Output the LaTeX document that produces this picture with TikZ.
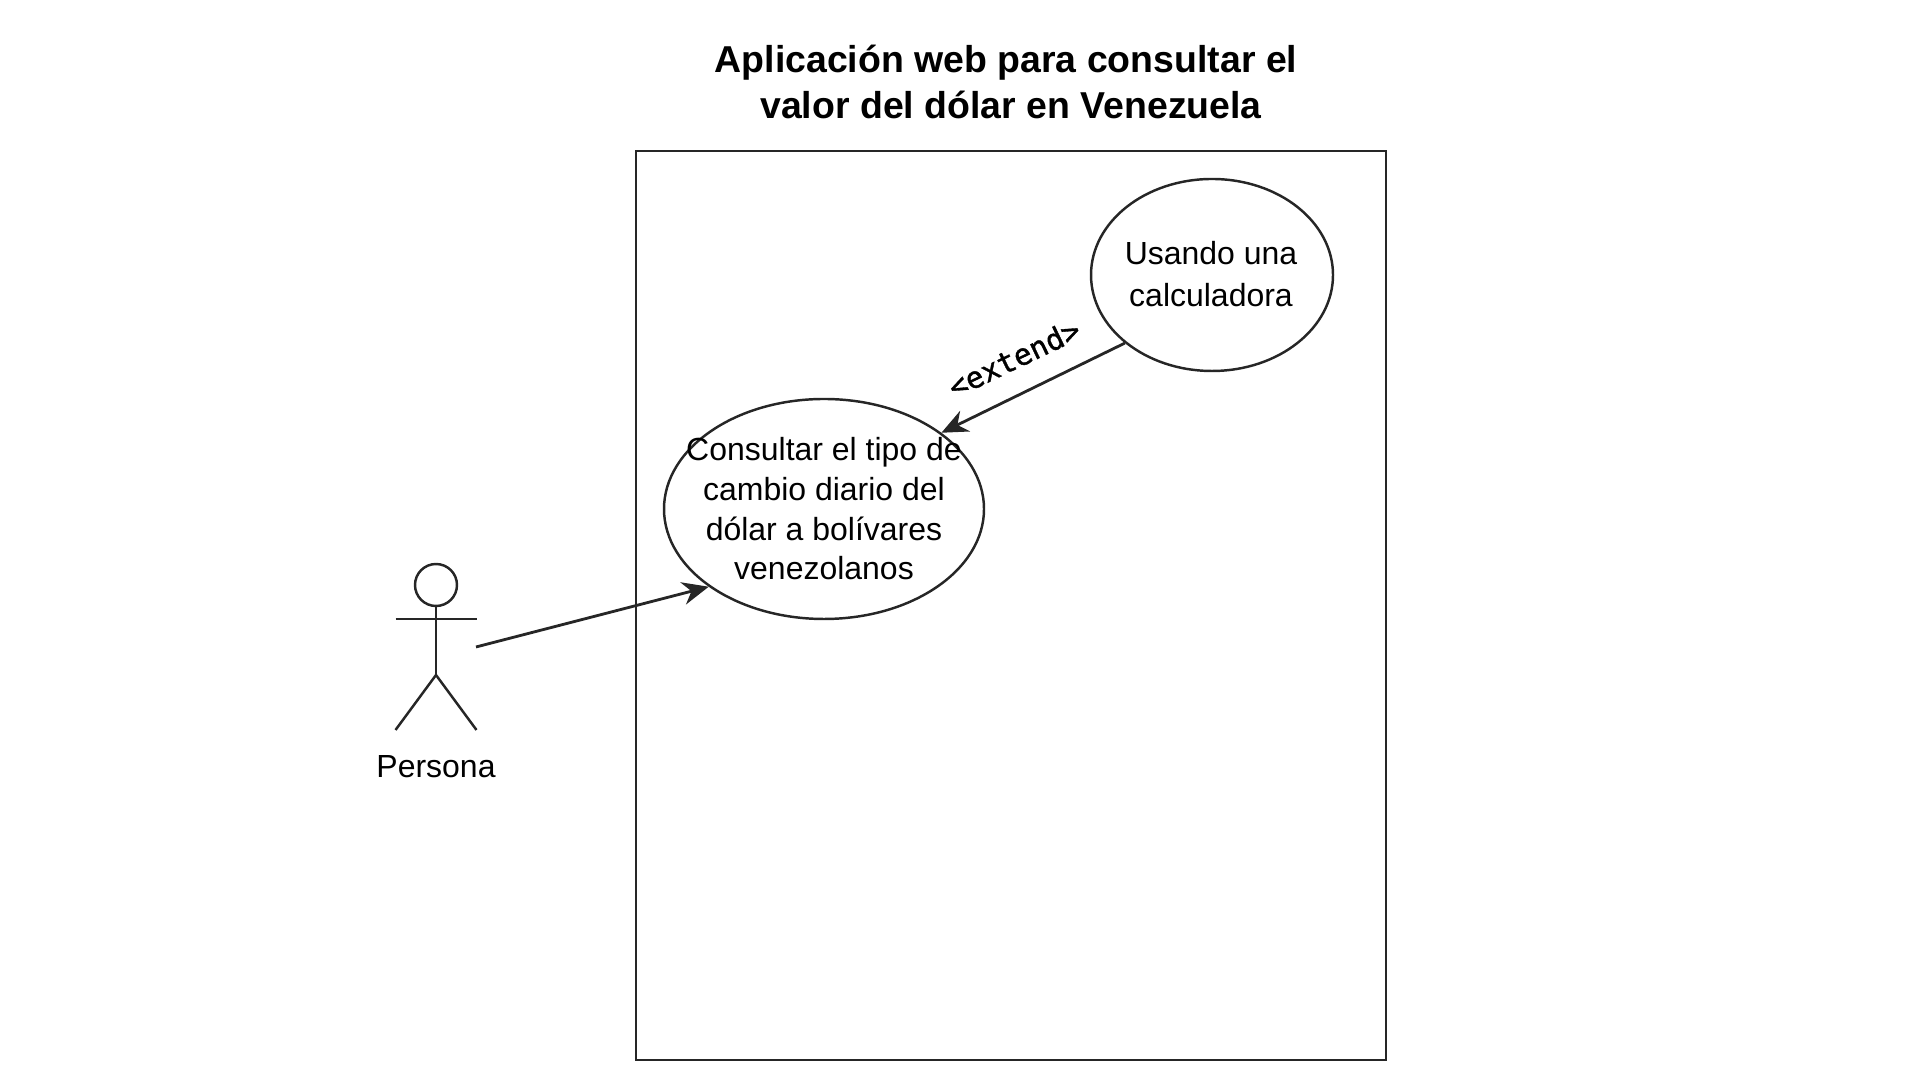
\documentclass[tikz,border=0pt]{standalone}
\usepackage{fontspec}
\setmainfont{Liberation Sans}
\newfontfamily\labelfont[FakeBold=1.2]{DejaVu Sans Mono}
\usetikzlibrary{arrows.meta,shapes.geometric}
\tikzset{
	usecase/.style={draw=black!85, line width=0.7pt, ellipse, inner sep=0pt},
	casetext/.style={align=center, font=\fontsize{9.1}{11.3}\selectfont},
	stick/.style={draw=black!85, line width=0.7pt},
	arrowline/.style={draw=black!85, line width=0.8pt, -{Stealth[length=7.5pt, width=6.5pt]}}
}

\begin{document}
\begin{tikzpicture}
			%%%%% START %%%%%
			\useasboundingbox (0, 0) rectangle (19.2, 10.8);
			
			\node[align=center, font=\bfseries\fontsize{10.65}{13.2}\selectfont] (title) at (10.06, 9.98) {Aplicación web para consultar el\\\hspace*{0.1cm}valor del dólar en Venezuela};
			
			\draw[line width=0.8pt, draw=black!85] (6.36, 0.2) rectangle (13.86, 9.29);
			
			\node[usecase, minimum width=2.42cm, minimum height=1.92cm] (calculadora) at (12.12, 8.05) {};
			\node[casetext, font=\fontsize{9.1}{12}\selectfont] (calculadoratext) at (12.11, 8.06) {Usando una\\calculadora};
			
			\node[usecase, minimum width=3.2cm, minimum height=2.2cm] (consultar) at (8.24, 5.71) {};
			\node[casetext] (consultartext) at (consultar) {Consultar el tipo de\\cambio diario del\\dólar a bolívares\\venezolanos};
			
			\draw[stick] (4.36, 4.95) circle (0.21);
			\coordinate (head) at (4.36, 4.74);
			\coordinate (hip) at (4.36, 4.05);
			\draw[stick] (head) -- (hip);
			\draw[stick] (3.955, 4.61) -- (4.765, 4.61);
			\draw[stick] (3.955, 3.5) -- (hip) -- (4.765, 3.5);
			\node[casetext] (persona) at (4.36, 3.13) {Persona};
			
			\coordinate (actorhand) at (4.76, 4.33);
			\draw[arrowline] (actorhand) -- (consultar.214.5);
			\draw[arrowline] (calculadora.218.4) -- (consultar.33.5);
			
			\node[rotate=25.6, font=\labelfont\fontsize{8.4}{10}\selectfont] (extend) at (10.14, 7.22) {<extend>};
			%%%%% END %%%%%
		\end{tikzpicture}
\end{document}
